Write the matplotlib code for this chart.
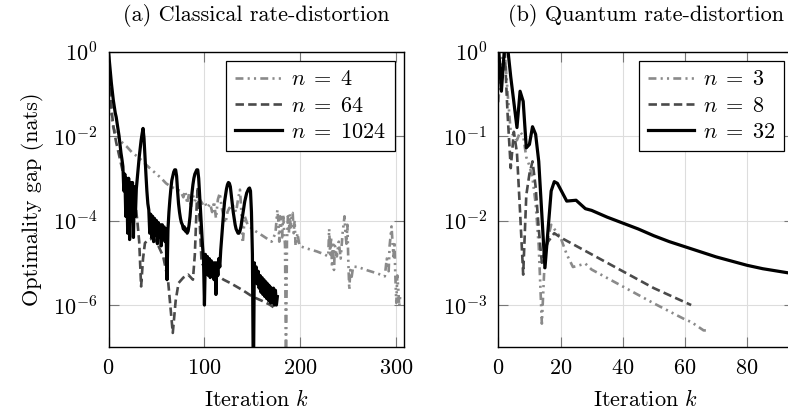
import numpy as np
import matplotlib
matplotlib.use("Agg")
import matplotlib.pyplot as plt

# --- (a) classical: iteration k and log10(gap) ---
k_c4 = [0, 1, 2, 3, 5, 8, 12, 15, 19, 25, 31, 37, 43, 50, 55, 60, 65, 70, 75, 78,
        80, 82, 84, 86, 88, 90, 92, 95, 98, 100, 103, 106, 108, 110, 112, 114, 116,
        118, 120, 122, 124, 126, 128, 130, 133, 135, 137, 138, 140, 142, 145, 151,
        160, 170, 174, 176, 177, 178, 179, 181, 182, 184, 185, 186, 187, 188, 189,
        190, 191, 192, 193, 194, 195, 197, 199, 205, 217, 225, 229, 230, 231, 232,
        233, 234, 235, 236, 238, 240, 242, 244, 246, 247, 248, 249, 250, 251, 252,
        253, 255, 260, 270, 280, 288, 290, 292, 293, 295, 296, 297, 298, 299, 300,
        301, 302, 303, 304]
lg_c4 = [0.0, -0.5, -1.0, -1.5, -1.8, -1.95, -2.1, -2.17, -2.25, -2.4, -2.5, -2.63,
         -2.76, -2.9, -3.0, -3.12, -3.2, -3.25, -3.3, -3.45, -3.3, -3.6, -3.35, -3.7,
         -3.4, -3.55, -3.45, -3.5, -3.6, -3.55, -3.7, -3.6, -3.8, -3.55, -3.95, -3.5,
         -3.35, -3.7, -3.9, -4.06, -3.8, -3.7, -3.75, -3.65, -3.8, -3.5, -3.27, -3.6,
         -4.53, -3.9, -4.1, -4.22, -4.35, -4.5, -4.3, -3.75, -4.0, -4.5, -3.9, -4.4,
         -3.85, -4.6, -7.5, -4.5, -3.9, -4.3, -3.85, -4.2, -3.85, -3.82, -4.3, -4.0,
         -4.6, -4.3, -4.6, -4.65, -4.73, -4.8, -4.85, -4.2, -4.8, -4.4, -5.1, -4.5,
         -5.17, -4.6, -4.85, -4.5, -4.9, -4.3, -3.9, -4.3, -4.55, -4.1, -5.0, -5.64,
         -5.17, -5.4, -5.09, -5.1, -5.18, -5.25, -5.32, -4.9, -5.2, -4.6, -4.14, -4.5,
         -4.85, -4.5, -5.32, -5.95, -5.3, -5.6, -6.03, -5.8]

k_c64 = [0, 1, 2, 3, 4, 5, 6, 8, 10, 12, 14, 16, 18, 20, 22, 24, 26, 28, 30, 32, 34,
         36, 38, 42, 47, 52, 57, 62, 67, 70, 73, 78, 83, 88, 90, 92, 93, 95, 97, 100,
         110, 120, 127, 140, 150, 160, 168, 172]
lg_c64 = [0.05, -0.6, -1.0, -1.3, -1.55, -1.75, -1.9, -2.15, -2.35, -2.55, -2.75,
          -2.95, -3.1, -3.25, -3.4, -3.5, -3.55, -3.6, -4.0, -4.5, -5.56, -4.9, -4.53,
          -4.45, -4.42, -4.6, -4.85, -5.4, -6.66, -5.9, -5.48, -5.35, -5.28, -5.4,
          -4.8, -3.6, -3.2, -4.0, -5.0, -5.1, -5.25, -5.4, -5.48, -5.65, -5.8, -5.9,
          -5.99, -6.05]

k_c1024 = list(range(0, 177))
lg_c1024 = [0.0, -0.25, -0.5, -0.75, -0.95, -1.15, -1.3, -1.45, -1.55, -1.7, -1.85,
            -2.0, -2.2, -2.4, -2.55, -2.72,
            -3.3, -2.9, -3.9, -3.0, -4.3, -3.0, -4.45, -3.1, -4.0, -3.1, -4.4, -3.2,
            -3.9, -3.25, -3.0, -2.75, -2.5, -2.3, -2.1, -1.95, -1.82, -2.05, -2.5,
            -2.9, -3.3, -3.6, -3.75,
            -4.3, -3.85, -4.4, -3.9, -4.5, -3.95, -4.35, -4.0, -4.55, -4.05, -4.4,
            -4.1, -4.6, -4.1, -4.4, -4.15, -4.5, -4.2, -5.4, -4.2, -3.8, -3.5, -3.25,
            -3.05, -2.95, -2.85, -2.8, -2.8, -2.95, -3.3, -3.6, -3.8, -3.95, -4.05,
            -4.1, -4.2, -4.15, -4.25, -4.2, -4.3, -4.25, -4.1, -3.9, -3.6, -3.35,
            -3.15, -3.0, -2.9, -2.85, -2.8, -2.8, -3.0, -3.4, -3.8, -4.2, -4.6, -4.9,
            -6.0, -4.8, -5.1, -4.85, -5.3, -4.9, -5.35, -4.95, -5.3, -5.0, -5.4, -5.0,
            -5.75, -5.0, -5.3, -4.9, -5.1, -4.7, -4.4, -4.1, -3.8, -3.55, -3.4, -3.25,
            -3.15, -3.1, -3.12, -3.2, -3.4, -3.6, -3.8, -3.95, -4.1, -4.2, -4.25, -4.3,
            -4.3, -4.25, -4.15, -4.0, -3.85, -3.7, -3.55, -3.45, -3.35, -3.3, -3.25,
            -3.23, -3.3, -3.8, -4.8, -8.0, -5.0, -5.3, -5.1, -5.5, -5.2, -5.6, -5.3,
            -5.7, -5.35, -5.75, -5.4, -5.8, -5.45, -5.85, -5.5, -5.9, -5.55, -5.95,
            -5.6, -5.95, -5.6, -6.0, -5.65, -6.0, -5.8]

# --- (b) quantum ---
k_q3 = [0, 1, 2, 3, 4, 5, 6, 7, 8, 9, 10, 11, 12, 13, 14, 15, 16, 17, 18, 19, 20, 22,
        24, 26, 28, 30, 32, 40, 50, 60, 62, 66, 67]
lg_q3 = [-0.6, -0.1, 0.05, -0.5, -0.95, -1.0, -1.05, -0.95, -1.0, -1.25, -1.35, -1.5,
         -1.8, -2.3, -3.22, -2.4, -2.2, -2.05, -2.1, -2.15, -2.2, -2.4, -2.55, -2.53,
         -2.51, -2.58, -2.62, -2.78, -2.98, -3.17, -3.2, -3.3, -3.3]

k_q8 = [0, 1, 2, 3, 4, 5, 6, 7, 8, 9, 10, 11, 12, 13, 14, 15, 16, 17, 18, 20, 30, 40,
        50, 62]
lg_q8 = [0.05, 0.0, 0.05, -0.75, -1.38, -0.95, -1.2, -1.9, -2.64, -1.7, -1.45, -1.3,
         -1.6, -2.1, -2.5, -2.35, -2.25, -2.2, -2.15, -2.2, -2.4, -2.6, -2.8, -3.0]

k_q32 = [0, 1, 2, 3, 4, 6, 7, 8, 9, 10, 11, 12, 13, 15, 17, 18, 19, 22, 25, 28, 30,
         35, 40, 45, 50, 55, 60, 65, 70, 75, 80, 85, 90, 95]
lg_q32 = [0.1, -0.47, 0.05, 0.05, -0.3, -0.9, -0.47, -0.59, -1.14, -1.1, -0.89, -0.98,
          -1.3, -2.56, -1.65, -1.54, -1.56, -1.77, -1.76, -1.86, -1.88, -1.96, -2.03,
          -2.1, -2.18, -2.25, -2.31, -2.37, -2.43, -2.48, -2.53, -2.57, -2.6, -2.63]

plt.rcParams["font.family"] = ["cmr10", "DejaVu Serif"]
plt.rcParams["mathtext.fontset"] = "cm"
plt.rcParams["axes.formatter.use_mathtext"] = True
plt.rcParams["font.size"] = 16

grey_light = "#8a8a8a"
grey_dark = "#4a4a4a"
dashdotdot = (0, (3.0, 1.6, 0.8, 1.6, 0.8, 1.6))
dashed = (0, (3.2, 1.6))

fig = plt.figure(figsize=(7.88, 4.09), dpi=100)
ax1 = fig.add_axes([108.5 / 788, 1 - 347.3 / 409, 295.5 / 788, 295.8 / 409])
ax2 = fig.add_axes([498.3 / 788, 1 - 347.3 / 409, 295.5 / 788, 295.8 / 409])

ax1.plot(k_c4, 10 ** np.array(lg_c4), color=grey_light, lw=1.9, ls=dashdotdot, label=r"$n\;=\;4$")
ax1.plot(k_c64, 10 ** np.array(lg_c64), color=grey_dark, lw=1.9, ls=dashed, label=r"$n\;=\;64$")
ax1.plot(k_c1024, 10 ** np.array(lg_c1024), color="black", lw=2.3, label=r"$n\;=\;1024$")
ax1.set_yscale("log")
ax1.set_xlim(0, 308)
ax1.set_ylim(1e-7, 1)
ax1.set_yticks([1, 1e-2, 1e-4, 1e-6])
ax1.set_xticks([0, 100, 200, 300])
ax1.set_title("(a) Classical rate-distortion", fontsize=16, pad=22)
ax1.set_xlabel("Iteration $k$", labelpad=8)
ax1.set_ylabel("Optimality gap (nats)", labelpad=6)

ax2.plot(k_q3, 10 ** np.array(lg_q3), color=grey_light, lw=1.9, ls=dashdotdot, label=r"$n\;=\;3$")
ax2.plot(k_q8, 10 ** np.array(lg_q8), color=grey_dark, lw=1.9, ls=dashed, label=r"$n\;=\;8$")
ax2.plot(k_q32, 10 ** np.array(lg_q32), color="black", lw=2.3, label=r"$n\;=\;32$")
ax2.set_yscale("log")
ax2.set_xlim(0, 95)
ax2.set_ylim(10 ** -3.5, 1)
ax2.set_yticks([1, 1e-1, 1e-2, 1e-3])
ax2.set_xticks([0, 20, 40, 60, 80])
ax2.set_title("(b) Quantum rate-distortion", fontsize=16, pad=22)
ax2.set_xlabel("Iteration $k$", labelpad=8)

for ax in (ax1, ax2):
    ax.minorticks_off()
    ax.grid(True, color="#dddddd", lw=0.8)
    ax.set_axisbelow(True)
    ax.tick_params(direction="in", top=True, right=True, length=7, width=0.8,
                   color="#777777", pad=8)
    for s in ax.spines.values():
        s.set_linewidth(1.0)
    leg = ax.legend(loc="upper right", fancybox=False, edgecolor="black",
                    framealpha=1, borderaxespad=0.42, handlelength=2.1,
                    handletextpad=0.4, labelspacing=0.3, borderpad=0.4)
    leg.get_frame().set_linewidth(0.9)

fig.savefig("out.png", dpi=100)
